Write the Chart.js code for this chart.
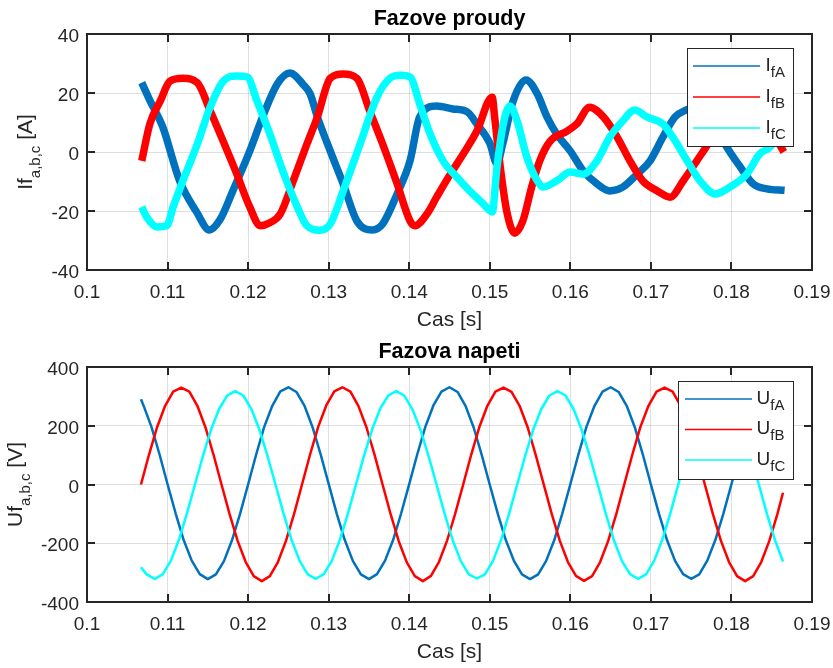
<!DOCTYPE html>
<html>
<head>
<meta charset="utf-8">
<script src="https://cdn.jsdelivr.net/npm/chart.js@4.4.1/dist/chart.umd.min.js"></script>
<style>
  body { margin: 0; background: #fff; }
  canvas { display: block; }
</style>
</head>
<body>
<canvas id="chart-I" width="833" height="334"></canvas>
<canvas id="chart-U" width="833" height="334"></canvas>
<script>
// x axis (time) ticks, shared by both plots
const xTicks = [0.1, 0.11, 0.12, 0.13, 0.14, 0.15, 0.16, 0.17, 0.18, 0.19];
const xTickLabels = ['0.1', '0.11', '0.12', '0.13', '0.14', '0.15', '0.16', '0.17', '0.18', '0.19'];
const iTicks = [-40, -20, 0, 20, 40];
const iTickLabels = ['-40', '-20', '0', '20', '40'];
const uTicks = [-400, -200, 0, 200, 400];
const uTickLabels = ['-400', '-200', '0', '200', '400'];

// phase currents [A]
const iaT = [0.1068,0.1078,0.1094,0.1115,0.1136,0.1152,0.1165,0.1181,0.1202,0.1218,0.1236,0.1252,0.1268,0.1277,0.1286,0.1302,0.1318,0.1335,0.1354,0.1367,0.1385,0.1401,0.1413,0.1434,0.1454,0.1472,0.1484,0.15,0.1509,0.1516,0.1529,0.1545,0.1559,0.1571,0.1583,0.16,0.1616,0.1633,0.1649,0.1665,0.1683,0.1699,0.1715,0.173,0.1742,0.1755,0.1771,0.1792,0.1811,0.1827,0.1844,0.1866];
const iaV = [23.5,17.5,8.5,-9.8,-20.3,-26.4,-23,-13.2,0.3,11.9,23,26.8,23,19.7,11.9,0.3,-10.8,-23.4,-26.4,-24.4,-14.2,-3,11.9,15.6,14.6,13.6,9.5,3,-4,2.7,17.3,24.4,19.7,11.9,6.1,0.3,-6.4,-10.8,-13.2,-11.9,-7.5,-3,5.1,11.9,14,15,14,2.7,-5.1,-10.8,-12.5,-13];
const ibT = [0.1068,0.1078,0.1091,0.1103,0.1119,0.1137,0.1153,0.1169,0.1186,0.1202,0.1215,0.1227,0.124,0.1256,0.1273,0.1286,0.1302,0.1318,0.1335,0.1351,0.1367,0.1385,0.1401,0.1407,0.1422,0.1434,0.1451,0.1467,0.1484,0.1503,0.1506,0.1513,0.1521,0.1531,0.1541,0.1552,0.1562,0.1575,0.1596,0.1608,0.1624,0.1641,0.1658,0.1674,0.169,0.1708,0.1724,0.174,0.1757,0.1773,0.1782,0.1802,0.1823,0.1848,0.1865];
const ibV = [-3,9.5,17.3,24,25,23.5,13.9,3.7,-7.5,-18.6,-25,-24,-21,-9.8,2.7,11.9,25,26.4,25,13.9,2.7,-10.8,-23.4,-25,-21,-15.3,-7.5,-0.7,7.1,18.6,11.9,-5.1,-20,-27.5,-23.4,-11.9,-3,3.7,7.1,9.5,15.2,11.9,5.1,-3,-9.8,-13.2,-15.3,-9.8,-3,3.7,8.5,13,14,8,0];
const icT = [0.1068,0.1074,0.1087,0.1099,0.1107,0.1119,0.1137,0.1153,0.1169,0.1186,0.1199,0.1211,0.1227,0.1243,0.1261,0.1273,0.1289,0.1302,0.1318,0.1339,0.136,0.1376,0.1389,0.1401,0.1413,0.1426,0.1442,0.1459,0.1475,0.1492,0.1503,0.1509,0.1516,0.1525,0.1534,0.1546,0.1559,0.1566,0.1583,0.16,0.1616,0.1633,0.1649,0.1665,0.168,0.1695,0.1715,0.1727,0.1745,0.1761,0.178,0.1798,0.1819,0.1835,0.1848,0.1866];
const icV = [-18.6,-22,-25.4,-25,-18.6,-9.8,2.7,15.3,24,25.8,25.4,17.3,6.1,-6.4,-18.6,-25,-26.5,-24.4,-13.2,2.7,18.6,25,26,25.4,16.3,6.1,-3,-8.5,-13.2,-17.6,-20.3,-5.1,8.5,15.6,10.5,-1.7,-9.8,-11.9,-9.8,-6.8,-7.5,-3,5.1,10.5,14.2,11.9,9.5,5.1,-3,-9.8,-14.2,-11.9,-7.5,-0.7,1.7,9];

// phase voltages [V]
const uaT = [0.1067,0.107,0.108,0.109,0.11,0.111,0.112,0.113,0.114,0.115,0.116,0.117,0.118,0.119,0.12,0.121,0.122,0.123,0.124,0.125,0.126,0.127,0.128,0.129,0.13,0.131,0.132,0.133,0.134,0.135,0.136,0.137,0.138,0.139,0.14,0.141,0.142,0.143,0.144,0.145,0.146,0.147,0.148,0.149,0.15,0.151,0.152,0.153,0.154,0.155,0.156,0.157,0.158,0.159,0.16,0.161,0.162,0.163,0.164,0.165,0.166,0.167,0.168,0.169,0.17,0.171,0.172,0.173,0.174,0.175,0.176,0.177,0.178,0.179,0.18,0.181,0.182,0.183,0.184,0.185,0.186,0.1866];
const uaV = [290,270,196,103,1,-98,-189,-259,-305,-322,-306,-261,-190,-100,0,102,196,268,317,331,315,268,195,103,2,-99,-189,-260,-306,-322,-305,-259,-189,-98,1,103,196,269,316,331,315,267,194,101,-1,-100,-190,-260,-306,-322,-306,-260,-190,-99,1,102,196,268,316,331,315,268,195,102,0,-99,-189,-260,-305,-321,-306,-259,-189,-99,1,102,195,268,315,330,316,300];
const ubT = [0.1067,0.1077,0.1087,0.1097,0.1107,0.1117,0.1127,0.1137,0.1147,0.1157,0.1167,0.1177,0.1187,0.1197,0.1207,0.1217,0.1227,0.1237,0.1247,0.1257,0.1267,0.1277,0.1287,0.1297,0.1307,0.1317,0.1327,0.1337,0.1347,0.1357,0.1367,0.1377,0.1387,0.1397,0.1407,0.1417,0.1427,0.1437,0.1447,0.1457,0.1467,0.1477,0.1487,0.1497,0.1507,0.1517,0.1527,0.1537,0.1547,0.1557,0.1567,0.1577,0.1587,0.1597,0.1607,0.1617,0.1627,0.1637,0.1647,0.1657,0.1667,0.1677,0.1687,0.1697,0.1707,0.1717,0.1727,0.1737,0.1747,0.1757,0.1767,0.1777,0.1787,0.1797,0.1807,0.1817,0.1827,0.1837,0.1847,0.1857,0.1864];
const ubV = [0,102,195,268,316,330,316,268,195,102,0,-101,-192,-264,-312,-329,-312,-264,-192,-101,1,103,196,269,317,331,316,267,194,101,-1,-102,-193,-265,-312,-329,-311,-263,-191,-100,0,102,195,268,316,330,315,268,195,101,0,-101,-192,-264,-311,-328,-312,-264,-192,-101,1,102,196,268,316,330,316,268,195,102,0,-101,-192,-264,-312,-329,-312,-264,-192,-101,-28];
const ucT = [0.1067,0.1074,0.1084,0.1094,0.1104,0.1114,0.1124,0.1134,0.1144,0.1154,0.1164,0.1174,0.1184,0.1194,0.1204,0.1214,0.1224,0.1234,0.1244,0.1254,0.1264,0.1274,0.1284,0.1294,0.1304,0.1314,0.1324,0.1334,0.1344,0.1354,0.1364,0.1374,0.1384,0.1394,0.1404,0.1414,0.1424,0.1434,0.1444,0.1454,0.1464,0.1474,0.1484,0.1494,0.1504,0.1514,0.1524,0.1534,0.1544,0.1554,0.1564,0.1574,0.1584,0.1594,0.1604,0.1614,0.1624,0.1634,0.1644,0.1654,0.1664,0.1674,0.1684,0.1694,0.1704,0.1714,0.1724,0.1734,0.1744,0.1754,0.1764,0.1774,0.1784,0.1794,0.1804,0.1814,0.1824,0.1834,0.1844,0.1854,0.1864];
const ucV = [-282,-306,-321,-306,-260,-189,-99,0,98,187,257,303,318,303,257,187,98,0,-99,-189,-260,-306,-321,-305,-259,-188,-98,1,99,188,258,303,318,302,256,186,97,-1,-100,-190,-261,-306,-320,-306,-260,-189,-99,0,98,187,257,303,318,303,257,187,98,0,-99,-189,-260,-305,-321,-306,-260,-189,-99,0,98,187,257,303,318,303,257,187,98,0,-99,-189,-262];

const BLUE = '#0072BD', RED = '#FF0000', CYAN = '#00FFFF';
const INK = '#262626';
const GRID = 'rgba(38,38,38,0.15)';
const FONT = '"Liberation Sans", Arial, Helvetica, sans-serif';

const pts = (t, v) => t.map((x, i) => ({ x: x, y: v[i] }));

// text with subscripts: parts = [[text, isSub], ...]
function richWidth(ctx, parts, big, small) {
    let w = 0;
    parts.forEach(p => {
        ctx.font = (p[1] ? small : big) + 'px ' + FONT;
        w += ctx.measureText(p[0]).width;
    });
    return w;
}
function drawRich(ctx, parts, x, y, big, small, drop) {
    parts.forEach(p => {
        ctx.font = (p[1] ? small : big) + 'px ' + FONT;
        ctx.fillText(p[0], x, p[1] ? y + drop : y);
        x += ctx.measureText(p[0]).width;
    });
}

// MATLAB-like frame: box, inward ticks, labels, title, legend
function matlabFrame(cfg) {
    return {
        id: 'matlabFrame',
        afterDraw(chart) {
            const ctx = chart.ctx, a = chart.chartArea;
            const xs = chart.scales.x, ys = chart.scales.y;
            ctx.save();
            ctx.strokeStyle = INK;
            ctx.lineWidth = 2;
            ctx.strokeRect(a.left, a.top, a.right - a.left, a.bottom - a.top);
            ctx.beginPath();
            xTicks.forEach(v => {
                const p = Math.round(xs.getPixelForValue(v));
                ctx.moveTo(p, a.bottom); ctx.lineTo(p, a.bottom - 8);
                ctx.moveTo(p, a.top); ctx.lineTo(p, a.top + 8);
            });
            cfg.yTicks.forEach(v => {
                const p = Math.round(ys.getPixelForValue(v));
                ctx.moveTo(a.left, p); ctx.lineTo(a.left + 8, p);
                ctx.moveTo(a.right, p); ctx.lineTo(a.right - 8, p);
            });
            ctx.stroke();

            ctx.fillStyle = INK;
            ctx.font = '19px ' + FONT;
            ctx.textBaseline = 'alphabetic';
            ctx.textAlign = 'center';
            xTicks.forEach((v, i) => ctx.fillText(xTickLabels[i], xs.getPixelForValue(v), a.bottom + 28));
            ctx.textAlign = 'right';
            cfg.yTicks.forEach((v, i) => ctx.fillText(cfg.yTickLabels[i], a.left - 8, ys.getPixelForValue(v) + 8));

            // x label and title
            const cx = (a.left + a.right) / 2;
            ctx.textAlign = 'center';
            ctx.font = '21px ' + FONT;
            ctx.fillText('Cas [s]', cx, a.bottom + 56);
            ctx.fillStyle = '#000';
            ctx.font = 'bold 21.5px ' + FONT;
            ctx.fillText(cfg.title, cx, a.top - 9);

            // rotated y label with subscript
            ctx.fillStyle = INK;
            ctx.textAlign = 'left';
            ctx.save();
            ctx.translate(cfg.yLabelX, (a.top + a.bottom) / 2);
            ctx.rotate(-Math.PI / 2);
            const w = richWidth(ctx, cfg.yTitle, 21, 15);
            drawRich(ctx, cfg.yTitle, -w / 2, 0, 21, 15, 8);
            ctx.restore();

            // legend
            const L = cfg.legend;
            ctx.fillStyle = '#fff';
            ctx.fillRect(L.box[0], L.box[1], L.box[2] - L.box[0], L.box[3] - L.box[1]);
            ctx.strokeStyle = INK;
            ctx.lineWidth = 1;
            ctx.strokeRect(L.box[0] + 0.5, L.box[1] + 0.5, L.box[2] - L.box[0], L.box[3] - L.box[1]);
            chart.data.datasets.forEach((ds, i) => {
                const y = L.rows[i];
                ctx.strokeStyle = ds.borderColor;
                ctx.lineWidth = 1.5;
                ctx.beginPath();
                ctx.moveTo(L.line[0], y); ctx.lineTo(L.line[1], y);
                ctx.stroke();
                ctx.fillStyle = INK;
                drawRich(ctx, [[L.main, 0], [L.subs[i], 1]], L.textX, y + L.base, 19, 15, 6);
            });
            ctx.restore();
        }
    };
}

function makeChart(id, cfg) {
    return new Chart(document.getElementById(id), {
        type: 'line',
        data: {
            datasets: cfg.series.map((s, i) => ({
                label: cfg.legend.subs[i],
                data: s.data,
                borderColor: s.color,
                borderWidth: cfg.lineWidth,
                pointRadius: 0,
                fill: false,
                tension: 0,
                cubicInterpolationMode: cfg.smooth ? 'monotone' : 'default',
                borderJoinStyle: 'round',
                order: 3 - i
            }))
        },
        options: {
            responsive: false,
            animation: false,
            events: [],
            layout: { padding: { top: cfg.top, right: 21, left: 0, bottom: 0 } },
            plugins: { legend: { display: false }, tooltip: { enabled: false }, title: { display: false } },
            scales: {
                x: {
                    type: 'linear', min: 0.1, max: 0.19,
                    afterBuildTicks: s => { s.ticks = xTicks.map(v => ({ value: v })); },
                    afterFit: s => { s.height = cfg.xHeight; },
                    ticks: { display: false },
                    grid: { color: GRID, drawTicks: false },
                    border: { display: false }
                },
                y: {
                    type: 'linear', min: cfg.yTicks[0], max: cfg.yTicks[cfg.yTicks.length - 1],
                    afterBuildTicks: s => { s.ticks = cfg.yTicks.map(v => ({ value: v })); },
                    afterFit: s => { s.width = 87; },
                    ticks: { display: false },
                    grid: { color: GRID, drawTicks: false },
                    border: { display: false }
                }
            }
        },
        plugins: [matlabFrame(cfg)]
    });
}

makeChart('chart-I', {
    title: 'Fazove proudy',
    top: 34, xHeight: 64, lineWidth: 7.5, smooth: true,
    yTicks: iTicks, yTickLabels: iTickLabels,
    yLabelX: 32,
    yTitle: [['If', 0], ['a,b,c', 1], [' [A]', 0]],
    series: [
        { data: pts(iaT, iaV), color: BLUE },
        { data: pts(ibT, ibV), color: RED },
        { data: pts(icT, icV), color: CYAN }
    ],
    legend: { box: [687, 48, 793, 146], line: [693, 760], rows: [66, 97, 128], textX: 765.5, base: 5, main: 'I', subs: ['fA', 'fB', 'fC'] }
});

makeChart('chart-U', {
    title: 'Fazova napeti',
    top: 33, xHeight: 66, lineWidth: 2.5, smooth: false,
    yTicks: uTicks, yTickLabels: uTickLabels,
    yLabelX: 21.5,
    yTitle: [['Uf', 0], ['a,b,c', 1], [' [V]', 0]],
    series: [
        { data: pts(uaT, uaV), color: BLUE },
        { data: pts(ubT, ubV), color: RED },
        { data: pts(ucT, ucV), color: CYAN }
    ],
    legend: { box: [678, 47, 793, 145], line: [685, 752], rows: [65, 95.5, 126], textX: 756.5, base: 4.5, main: 'U', subs: ['fA', 'fB', 'fC'] }
});
</script>
</body>
</html>
